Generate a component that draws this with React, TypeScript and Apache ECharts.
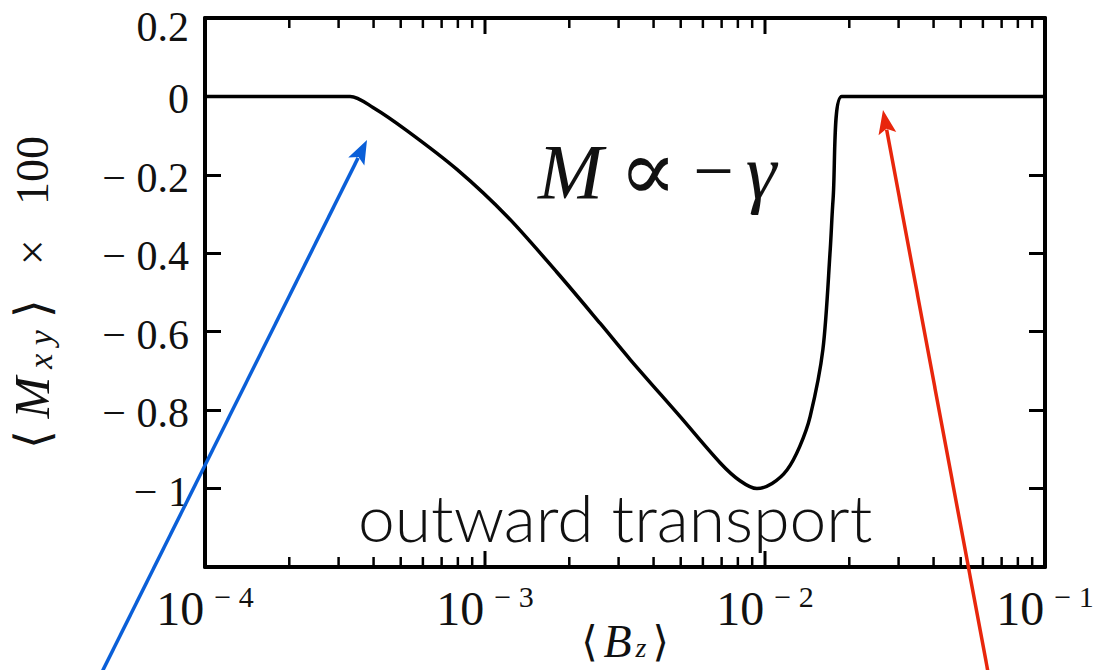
import React, { useEffect, useRef } from "react";
import * as echarts from "echarts";

// Data
const bzValues = [
  1e-4, 3.3e-4, 3.98e-4, 5.26e-4, 7.94e-4, 1.2e-3, 1.81e-3, 2.58e-3, 3.3e-3, 4.97e-3,
  6.91e-3, 8.14e-3, 9.36e-3, 1.06e-2, 1.2e-2, 1.33e-2, 1.45e-2, 1.61e-2, 1.71e-2,
  1.75e-2, 1.88e-2, 1e-1,
];
const mxyValues = [
  0, 0, -0.028, -0.087, -0.186, -0.306, -0.449, -0.579, -0.671, -0.816,
  -0.934, -0.98, -1.0, -0.987, -0.952, -0.893, -0.816, -0.645, -0.39,
  -0.263, 0, 0,
];
const xMajorExponents = [-4, -3, -2, -1];
const xMinorMultipliers = [2, 3, 4, 5, 6, 7, 8, 9];
const yTickValues = [0.2, 0, -0.2, -0.4, -0.6, -0.8, -1];
const yMin = -1.2;
const yMax = 0.2;

const serif = "'Liberation Serif', 'DejaVu Serif', serif";

function arrow(x0: number, y0: number, x1: number, y1: number, color: string) {
  const dx = x1 - x0, dy = y1 - y0;
  const len = Math.hypot(dx, dy);
  const ux = dx / len, uy = dy / len;
  const nx = -uy, ny = ux;
  const hl = 24, hw = 9;
  const bx = x1 - ux * hl, by = y1 - uy * hl;
  return [
    {
      type: "line",
      z: 100,
      shape: { x1: x0, y1: y0, x2: bx + ux * 4, y2: by + uy * 4 },
      style: { stroke: color, lineWidth: 3.5 },
    },
    {
      type: "polygon",
      z: 100,
      shape: {
        points: [
          [x1, y1],
          [bx + nx * hw, by + ny * hw],
          [bx + ux * 5, by + uy * 5],
          [bx - nx * hw, by - ny * hw],
        ],
      },
      style: { fill: color },
    },
  ];
}

export default function App() {
  const ref = useRef<HTMLDivElement>(null);
  useEffect(() => {
    document.body.style.margin = "0";
    const chart = echarts.init(ref.current!, null, { renderer: "svg" });

    // x tick marks (major decades + minor 2..9), drawn through the log axis scale
    const xTicks: number[][] = [];
    xMajorExponents.forEach((e, i) => {
      xTicks.push([Math.pow(10, e), 1]);
      if (i < xMajorExponents.length - 1)
        xMinorMultipliers.forEach((m) => xTicks.push([m * Math.pow(10, e), 0]));
    });

    const xmin = Math.pow(10, xMajorExponents[0]);
    const xmax = Math.pow(10, xMajorExponents[xMajorExponents.length - 1]);

    const majorTick = { show: true, inside: true, length: 16, lineStyle: { color: "#000", width: 3 } };
    const frameLine = { show: true, onZero: false, lineStyle: { color: "#000", width: 4 } };

    const data = bzValues.map((b, i) => [b, mxyValues[i]]);

    chart.setOption({
      animation: false,
      backgroundColor: "#fff",
      grid: {
        left: 205,
        right: 58,
        top: 18,
        bottom: 103,
        containLabel: false,
        outerBoundsMode: "none",
      },
      xAxis: [
        {
          type: "log",
          logBase: 10,
          min: xmin,
          max: xmax,
          position: "bottom",
          name: "{l|⟨}{v|B}{sub|z}{l|⟩}",
          nameLocation: "middle",
          nameGap: 54,
          nameMoveOverlap: false,
          nameTextStyle: {
            rich: {
              l: { fontFamily: "'DejaVu Serif', serif", fontSize: 42, lineHeight: 40, color: "#111", fontWeight: 200 },
              v: { fontFamily: serif, fontStyle: "italic", fontSize: 46, lineHeight: 40, color: "#111", padding: [0, 2, 0, 6] },
              sub: { fontFamily: serif, fontStyle: "italic", fontSize: 28, lineHeight: 40, color: "#111", padding: [12, 6, 0, 2] },
            },
          },
          axisLine: frameLine,
          axisTick: { show: false },
          splitLine: { show: false },
          minorTick: { show: false },
          axisLabel: {
            show: true,
            margin: 14,
            formatter: (v: number) => {
              const e = Math.round(Math.log10(v));
              return `{b|10}{s|− ${Math.abs(e)}}`;
            },
            rich: {
              b: { fontFamily: serif, fontSize: 48, color: "#111", lineHeight: 48 },
              s: { fontFamily: serif, fontSize: 30, color: "#111", padding: [0, 0, 24, 10] },
            },
          },
        },
        {
          type: "log",
          logBase: 10,
          min: xmin,
          max: xmax,
          position: "top",
          axisLine: frameLine,
          axisTick: { show: false },
          axisLabel: { show: false },
          splitLine: { show: false },
        },
      ],
      yAxis: [
        {
          type: "value",
          min: yMin,
          max: yMax,
          interval: 0.2,
          position: "left",
          name: "{l|⟨}{v|M}{sub|x y}{l|⟩}{t|×   100}",
          nameLocation: "middle",
          nameGap: 148,
          nameMoveOverlap: false,
          nameRotate: 90,
          nameTextStyle: {
            rich: {
              l: { fontFamily: "'DejaVu Serif', serif", fontSize: 48, color: "#111", fontWeight: 200 },
              v: { fontFamily: serif, fontStyle: "italic", fontSize: 50, color: "#111", padding: [0, 6, 0, 12] },
              sub: { fontFamily: serif, fontStyle: "italic", fontSize: 34, color: "#111", padding: [16, 12, 0, 2] },
              t: { fontFamily: serif, fontSize: 46, color: "#111", padding: [0, 0, 0, 34] },
            },
          },
          axisLine: frameLine,
          axisTick: majorTick,
          splitLine: { show: false },
          axisLabel: {
            show: true,
            margin: 16,
            fontFamily: serif,
            fontSize: 42,
            lineHeight: 26,
            color: "#111",
            padding: [6, 0, 0, 0],
            customValues: yTickValues,
            formatter: (v: number) => {
              const s = String(Number(v.toFixed(1))).replace("-", "− ");
              return v >= yMax - 1e-9 ? `{top|${s}}` : s;
            },
            rich: {
              top: { fontFamily: serif, fontSize: 42, lineHeight: 26, color: "#111", padding: [12, 0, 0, 0] },
            },
          },
        },
        {
          type: "value",
          min: yMin,
          max: yMax,
          interval: 0.2,
          position: "right",
          axisLine: frameLine,
          axisTick: majorTick,
          axisLabel: { show: false },
          splitLine: { show: false },
        },
      ],
      series: [
        {
          type: "line",
          xAxisIndex: 0,
          yAxisIndex: 0,
          data,
          showSymbol: false,
          symbol: "none",
          smooth: 0.3,
          lineStyle: { color: "#000", width: 3.5 },
          z: 5,
        },
        {
          type: "custom",
          xAxisIndex: 0,
          yAxisIndex: 0,
          silent: true,
          clip: false,
          z: 20,
          data: xTicks,
          renderItem: (params: any, api: any) => {
            const v = api.value(0);
            const len = api.value(1) ? 16 : 10;
            const b = api.coord([v, yMin]);
            const t = api.coord([v, yMax]);
            const style = { stroke: "#000", lineWidth: api.value(1) ? 3 : 2.5 };
            return {
              type: "group",
              children: [
                { type: "line", shape: { x1: b[0], y1: b[1], x2: b[0], y2: b[1] - len }, style },
                { type: "line", shape: { x1: t[0], y1: t[1], x2: t[0], y2: t[1] + len }, style },
              ],
            };
          },
        },
      ],
      graphic: [
        {
          type: "text",
          left: 538,
          top: 128,
          z: 50,
          style: {
            text: "{i|M}{r|∝}{m|−}{i|γ}",
            rich: {
              i: { fontFamily: serif, fontStyle: "italic", fontSize: 78, fill: "#111" },
              r: { fontFamily: serif, fontSize: 86, fill: "#111", padding: [0, 16, 0, 16] },
              m: { fontFamily: serif, fontSize: 72, fill: "#111", padding: [0, 12, 0, 0] },
            },
          },
        },
        {
          type: "text",
          left: 358,
          top: 483,
          z: 50,
          style: {
            text: "outward transport",
            fontFamily: "Lato, 'Open Sans', sans-serif",
            fontWeight: 300,
            fontSize: 66,
            fill: "#111",
          },
        },
        ...arrow(102, 672, 367, 140, "#0a5fd8"),
        ...arrow(988, 672, 883, 110, "#e8260c"),
      ],
    });
    return () => chart.dispose();
  }, []);
  return (
    <div
      ref={ref}
      style={{ position: "absolute", left: 0, top: 0, width: 1103, height: 670 }}
    />
  );
}
